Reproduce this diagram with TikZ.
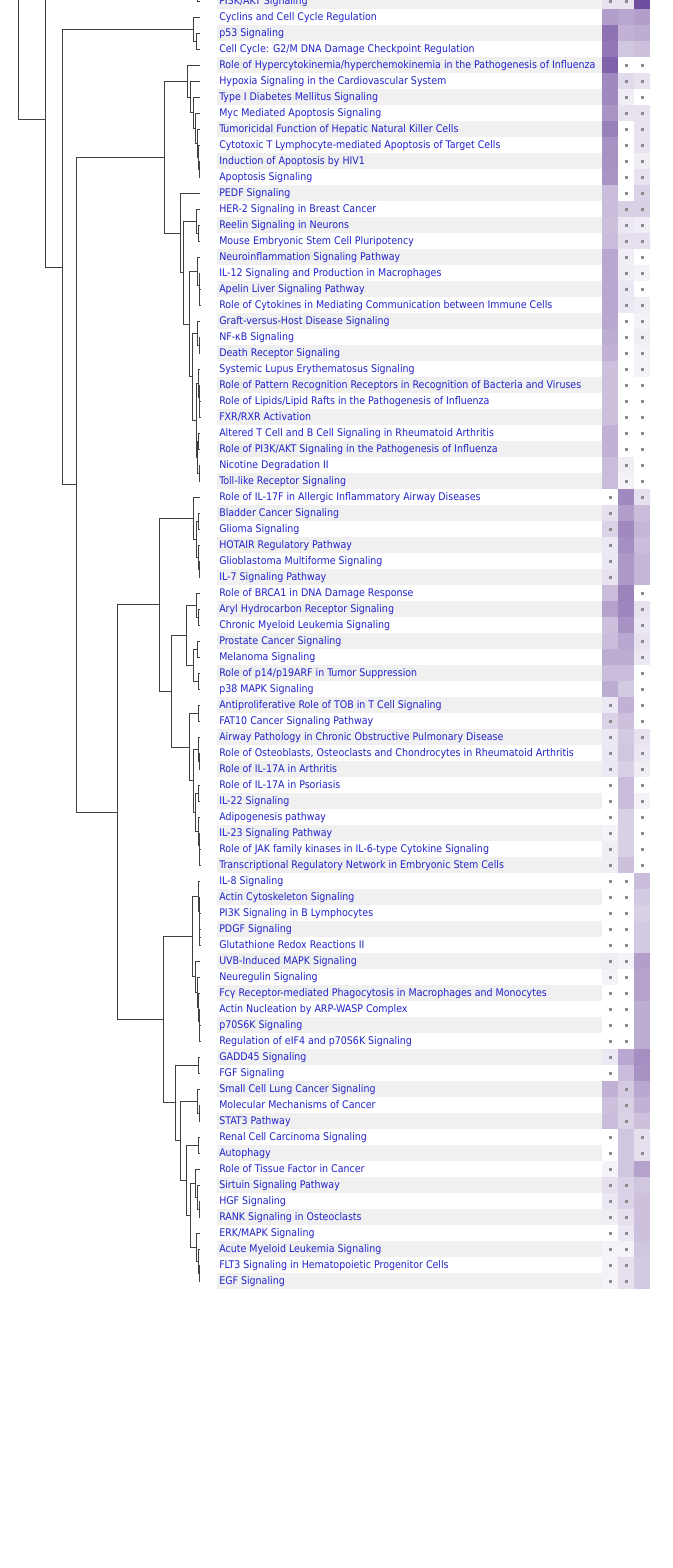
\documentclass[tikz,border=0pt]{standalone}
\usepackage{fontspec}
\newfontfamily\labfont{DejaVu Sans Condensed}
\definecolor{labblue}{RGB}{34,34,204}
\definecolor{rowgray}{HTML}{F0F0F0}
\definecolor{hm}{RGB}{110,76,158}
\definecolor{dotgray}{HTML}{8A8A8A}
\definecolor{treegray}{HTML}{404040}
\begin{document}
\begin{tikzpicture}[x=0.75pt,y=-0.75pt,
  lab/.style={anchor=west,inner sep=0pt,text=labblue,font=\labfont\fontsize{7.9}{9}\selectfont,text height=1.6ex,text depth=0.4ex},
  branch/.style={draw=treegray,line width=0.75pt},
  dot/.style={fill=dotgray}]

\useasboundingbox (0,0) rectangle (672,1568);
\fill[white] (0,0) rectangle (672,1568);
\clip (0,0) rectangle (672,1568);

% row stripes
\foreach \i in {0,2,...,80}
  \fill[rowgray] (217,16*\i-7) rectangle (602,16*\i+9);

% labels and leaf ends
\foreach \i/\txt in {0/{PI3K/AKT Signaling},1/Cyclins and Cell Cycle Regulation,2/p53 Signaling,
  3/{Cell Cycle: G2/M DNA Damage Checkpoint Regulation},
  4/{Role of Hypercytokinemia/hyperchemokinemia in the Pathogenesis of Influenza},
  5/Hypoxia Signaling in the Cardiovascular System,6/Type I Diabetes Mellitus Signaling,
  7/Myc Mediated Apoptosis Signaling,8/Tumoricidal Function of Hepatic Natural Killer Cells,
  9/Cytotoxic T Lymphocyte-mediated Apoptosis of Target Cells,10/Induction of Apoptosis by HIV1,
  11/Apoptosis Signaling,12/PEDF Signaling,13/HER-2 Signaling in Breast Cancer,
  14/Reelin Signaling in Neurons,15/Mouse Embryonic Stem Cell Pluripotency,
  16/Neuroinflammation Signaling Pathway,17/IL-12 Signaling and Production in Macrophages,
  18/Apelin Liver Signaling Pathway,19/Role of Cytokines in Mediating Communication between Immune Cells,
  20/Graft-versus-Host Disease Signaling,21/NF-κB Signaling,22/Death Receptor Signaling,
  23/Systemic Lupus Erythematosus Signaling,
  24/Role of Pattern Recognition Receptors in Recognition of Bacteria and Viruses,
  25/{Role of Lipids/Lipid Rafts in the Pathogenesis of Influenza},26/{FXR/RXR Activation},
  27/Altered T Cell and B Cell Signaling in Rheumatoid Arthritis,
  28/{Role of PI3K/AKT Signaling in the Pathogenesis of Influenza},29/Nicotine Degradation II,
  30/Toll-like Receptor Signaling,31/Role of IL-17F in Allergic Inflammatory Airway Diseases,
  32/Bladder Cancer Signaling,33/Glioma Signaling,34/HOTAIR Regulatory Pathway,
  35/Glioblastoma Multiforme Signaling,36/IL-7 Signaling Pathway,
  37/Role of BRCA1 in DNA Damage Response,38/Aryl Hydrocarbon Receptor Signaling,
  39/Chronic Myeloid Leukemia Signaling,40/Prostate Cancer Signaling,41/Melanoma Signaling,
  42/{Role of p14/p19ARF in Tumor Suppression},43/p38 MAPK Signaling,
  44/Antiproliferative Role of TOB in T Cell Signaling,45/FAT10 Cancer Signaling Pathway,
  46/Airway Pathology in Chronic Obstructive Pulmonary Disease,
  47/{Role of Osteoblasts, Osteoclasts and Chondrocytes in Rheumatoid Arthritis},
  48/Role of IL-17A in Arthritis,49/Role of IL-17A in Psoriasis,50/IL-22 Signaling,
  51/Adipogenesis pathway,52/IL-23 Signaling Pathway,
  53/Role of JAK family kinases in IL-6-type Cytokine Signaling,
  54/Transcriptional Regulatory Network in Embryonic Stem Cells,55/IL-8 Signaling,
  56/Actin Cytoskeleton Signaling,57/PI3K Signaling in B Lymphocytes,58/PDGF Signaling,
  59/Glutathione Redox Reactions II,60/UVB-Induced MAPK Signaling,61/Neuregulin Signaling,
  62/Fcγ Receptor-mediated Phagocytosis in Macrophages and Monocytes,
  63/Actin Nucleation by ARP-WASP Complex,64/p70S6K Signaling,
  65/Regulation of eIF4 and p70S6K Signaling,66/GADD45 Signaling,67/FGF Signaling,
  68/Small Cell Lung Cancer Signaling,69/Molecular Mechanisms of Cancer,70/STAT3 Pathway,
  71/Renal Cell Carcinoma Signaling,72/Autophagy,73/Role of Tissue Factor in Cancer,
  74/Sirtuin Signaling Pathway,75/HGF Signaling,76/RANK Signaling in Osteoclasts,
  77/{ERK/MAPK Signaling},78/Acute Myeloid Leukemia Signaling,
  79/FLT3 Signaling in Hematopoietic Progenitor Cells,80/EGF Signaling}
{
  \node[lab] (r\i) at (219,16*\i+1.5) {\txt};
  \coordinate (l\i) at (200,16*\i+1);
}

% heatmap cells
\foreach \i/\a/\b/\c in {0/16/16/100,1/54/49/54,2/78/43/46,3/76/32/35,4/88/0/0,5/66/21/16,
  6/66/10/0,7/60/16/16,8/71/0/16,9/61/0/16,10/61/0/10,11/60/0/16,12/37/0/25,13/37/26/26,
  14/35/13/10,15/37/18/18,16/49/10/0,17/49/10/7,18/49/13/0,19/49/13/10,20/49/0/7,
  21/46/0/10,22/43/0/7,23/35/0/7,24/35/0/0,25/35/0/0,26/35/0/0,27/43/0/0,28/43/0/0,
  29/37/10/0,30/37/7/0,31/0/66/18,32/18/54/37,33/25/66/41,34/13/63/37,35/13/57/41,
  36/16/57/41,37/37/69/0,38/52/67/16,39/35/61/13,40/37/49/16,41/46/46/13,42/37/37/0,
  43/46/30/0,44/13/43/0,45/25/35/0,46/13/30/16,47/13/32/13,48/13/26/10,49/0/37/0,
  50/0/37/7,51/0/26/0,52/7/26/0,53/10/26/0,54/10/35/0,55/0/0/37,56/0/0/30,57/0/0/26,
  58/0/0/30,59/0/0/30,60/10/7/54,61/7/0/52,62/0/0/52,63/0/0/46,64/0/0/46,65/0/0/46,
  66/13/49/63,67/0/37/61,68/43/30/49,69/35/26/43,70/37/25/35,71/0/32/18,72/0/32/18,
  73/7/32/52,74/18/25/32,75/13/25/35,76/10/18/35,77/0/13/35,78/7/7/32,79/7/18/30,80/7/18/30}
{
  \fill[hm!\a] (602,16*\i-7) rectangle +(16,16);
  \fill[hm!\b] (618,16*\i-7) rectangle +(16,16);
  \fill[hm!\c] (634,16*\i-7) rectangle +(16,16);
}

% marks
\foreach \rows/\cols in {{0}/{1,2},{4,...,30}/{2,3},{31}/{1,3},{32,...,36}/{1},
  {37,...,43}/{3},{44,...,54}/{1,3},{55,...,65}/{1,2},{66,67}/{1},{68,69,70}/{2},
  {71,72}/{1,3},{73}/{1},{74,...,80}/{1,2}}
  \foreach \i in \rows
    \foreach \c in \cols
      \fill[dot] (592.5+16*\c,16*\i-0.5) rectangle +(3,3);

% tree joints
\coordinate (t18) at (18,-100);
\coordinate (u45) at (120,-19);
\coordinate (n45) at (45,119);
\coordinate (p0) at (197,-7);
\coordinate (c23) at (196,41);
\coordinate (c1) at (193,29);
\coordinate (n62) at (62,267);
\coordinate (n76) at (76,484.5);
\coordinate (g1) at (164,157);
\coordinate (a10) at (199,169);
\coordinate (a9) at (198,157);
\coordinate (a8) at (197,143);
\coordinate (a7) at (195,128);
\coordinate (a6) at (193,112.5);
\coordinate (a5) at (190,97);
\coordinate (a4) at (187,81);
\coordinate (e180) at (180,233);
\coordinate (e184) at (183,272.5);
\coordinate (h14) at (198,233);
\coordinate (h13) at (196,221);
\coordinate (b188) at (189,324);
\coordinate (f18) at (199.5,297);
\coordinate (f17) at (199,285);
\coordinate (f16) at (197,271);
\coordinate (c192) at (192,376.5);
\coordinate (g21) at (199,345);
\coordinate (g20) at (197,333);
\coordinate (s196) at (196,420);
\coordinate (s25) at (199.5,409);
\coordinate (s24) at (199,397);
\coordinate (s1) at (198,383);
\coordinate (s27) at (198,441);
\coordinate (s29) at (199,473);
\coordinate (s2) at (197,457);
\coordinate (n117) at (117,812);
\coordinate (h159) at (159,604.5);
\coordinate (k193) at (193,518);
\coordinate (k196) at (196,539);
\coordinate (k32) at (198,521);
\coordinate (k35) at (199,569);
\coordinate (k34) at (198,557);
\coordinate (k171) at (171,691);
\coordinate (k186) at (186,635);
\coordinate (p38) at (198,617);
\coordinate (p1) at (196,605);
\coordinate (p40) at (197,649);
\coordinate (p42) at (198,681);
\coordinate (p2) at (193,665);
\coordinate (m189) at (189,747);
\coordinate (m44) at (198,713);
\coordinate (m193) at (193,780.5);
\coordinate (m47) at (199,761);
\coordinate (m46) at (198,749);
\coordinate (m49) at (198,793);
\coordinate (m53) at (199.5,857);
\coordinate (m52) at (199,845);
\coordinate (m51) at (198,831);
\coordinate (m195) at (195,812);
\coordinate (q163) at (163,1019.5);
\coordinate (u192) at (192,936);
\coordinate (u58) at (199.7,937);
\coordinate (u57) at (199.5,925);
\coordinate (u56) at (199,911);
\coordinate (u55) at (198,896);
\coordinate (u64) at (199.5,1033);
\coordinate (u63) at (199,1021);
\coordinate (u62) at (198,1007);
\coordinate (u61) at (197,992);
\coordinate (u60) at (195,976.5);
\coordinate (v175) at (175,1102.75);
\coordinate (v66) at (198,1065);
\coordinate (w180) at (180,1140.5);
\coordinate (w69) at (199,1113);
\coordinate (w68) at (197,1101);
\coordinate (x186) at (186,1180);
\coordinate (x71) at (198,1145);
\coordinate (y190) at (190,1215);
\coordinate (y75) at (199,1209);
\coordinate (y74) at (197,1197);
\coordinate (y73) at (195,1183);
\coordinate (y79) at (199,1273);
\coordinate (y78) at (198,1261);
\coordinate (y77) at (196,1247);

% dendrogram
\foreach \p/\q in {t18/n45,n45/u45,n45/n62,p0/l0,
  n62/c1,n62/n76,c1/l1,c1/c23,c23/l2,c23/l3,
  n76/g1,n76/n117,g1/a4,g1/e180,
  a4/l4,a4/a5,a5/l5,a5/a6,a6/l6,a6/a7,a7/l7,a7/a8,a8/l8,a8/a9,a9/l9,a9/a10,a10/l10,a10/l11,
  e180/l12,e180/e184,e184/h13,e184/b188,h13/l13,h13/h14,h14/l14,h14/l15,
  b188/f16,b188/c192,f16/l16,f16/f17,f17/l17,f17/f18,f18/l18,f18/l19,
  c192/g20,c192/s196,g20/l20,g20/g21,g21/l21,g21/l22,
  s196/s1,s196/s2,s1/l23,s1/s24,s24/l24,s24/s25,s25/l25,s25/l26,
  s2/s27,s2/s29,s27/l27,s27/l28,s29/l29,s29/l30,
  n117/h159,n117/q163,
  h159/k193,h159/k171,k193/l31,k193/k196,k196/k32,k196/k34,k32/l32,k32/l33,
  k34/l34,k34/k35,k35/l35,k35/l36,
  k171/k186,k171/m189,k186/p1,k186/p2,p1/l37,p1/p38,p38/l38,p38/l39,
  p2/p40,p2/p42,p40/l40,p40/l41,p42/l42,p42/l43,
  m189/m44,m189/m193,m44/l44,m44/l45,m193/m46,m193/m195,m46/l46,m46/m47,m47/l47,m47/l48,
  m195/m49,m195/m51,m49/l49,m49/l50,m51/l51,m51/m52,m52/l52,m52/m53,m53/l53,m53/l54,
  q163/u192,q163/v175,u192/u55,u192/u60,u55/l55,u55/u56,u56/l56,u56/u57,u57/l57,u57/u58,
  u58/l58,u58/l59,
  u60/l60,u60/u61,u61/l61,u61/u62,u62/l62,u62/u63,u63/l63,u63/u64,u64/l64,u64/l65,
  v175/v66,v175/w180,v66/l66,v66/l67,w180/w68,w180/x186,w68/l68,w68/w69,w69/l69,w69/l70,
  x186/x71,x186/y190,x71/l71,x71/l72,y190/y73,y190/y77,y73/l73,y73/y74,y74/l74,y74/y75,
  y75/l75,y75/l76,y77/l77,y77/y78,y78/l78,y78/y79,y79/l79,y79/l80}
  \draw[branch] (\p) |- (\q);

\end{tikzpicture}
\end{document}
